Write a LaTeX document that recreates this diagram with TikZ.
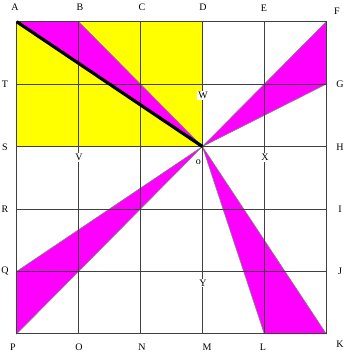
\documentclass[tikz,border=0pt]{standalone}
\usepackage{fontspec}
\setmainfont{Liberation Serif}
\definecolor{mag}{RGB}{255,0,255}
\definecolor{yel}{RGB}{255,255,0}
\begin{document}
\begin{tikzpicture}[x=1pt,y=-1pt,
  gridline/.style={draw=black!75,line width=0.9pt},
  tri/.style={fill=mag,draw=gray,line width=0.6pt},
  lab/.style={font=\fontsize{10}{12}\selectfont,inner sep=0.5pt},
  onlab/.style={lab,fill=white,inner sep=1pt}]
\useasboundingbox (0,0) rectangle (343,352);
% grid points
\coordinate (pA) at (16.7,21.7);
\coordinate (pB) at (78.6,21.7);
\coordinate (pC) at (140.5,21.7);
\coordinate (pD) at (202.4,21.7);
\coordinate (pE) at (264.3,21.7);
\coordinate (pF) at (326.2,21.7);
\coordinate (pT) at (16.7,84.1);
\coordinate (pG) at (326.2,84.1);
\coordinate (pS) at (16.7,146.5);
\coordinate (pH) at (326.2,146.5);
\coordinate (pR) at (16.7,209.0);
\coordinate (pI) at (326.2,209.0);
\coordinate (pQ) at (16.7,271.4);
\coordinate (pJ) at (326.2,271.4);
\coordinate (pP) at (16.7,333.8);
\coordinate (pO) at (78.6,333.8);
\coordinate (pN) at (140.5,333.8);
\coordinate (pM) at (202.4,333.8);
\coordinate (pL) at (264.3,333.8);
\coordinate (pK) at (326.2,333.8);
\coordinate (ctr) at (202.4,146.5);
% yellow square
\fill[yel] (pA) rectangle (ctr);
% magenta triangles
\filldraw[tri] (pA) -- (pB) -- (ctr) -- cycle;
\filldraw[tri] (pF) -- (pG) -- (ctr) -- cycle;
\filldraw[tri] (pQ) -- (pP) -- (ctr) -- cycle;
\filldraw[tri] (pL) -- (pK) -- (ctr) -- cycle;
% grid
\draw[gridline] (pB) -- (pO);
\draw[gridline] (pC) -- (pN);
\draw[gridline] (pD) -- (pM);
\draw[gridline] (pE) -- (pL);
\draw[gridline] (pT) -- (pG);
\draw[gridline] (pS) -- (pH);
\draw[gridline] (pR) -- (pI);
\draw[gridline] (pQ) -- (pJ);
\draw[gridline] (pA) rectangle (pK);
% thick diagonal
\draw[line width=3.2pt] (pA) -- (ctr);
% labels
\node[lab] (lA) at (15,7.5) {A};
\node[lab] (lB) at (80,7.5) {B};
\node[lab] (lC) at (142,7.5) {C};
\node[lab] (lD) at (203,7.5) {D};
\node[lab] (lE) at (264,8.5) {E};
\node[lab] (lF) at (337,11) {F};
\node[lab] (lT) at (5,84) {T};
\node[lab] (lS) at (5,147) {S};
\node[lab] (lR) at (5,209) {R};
\node[lab] (lQ) at (5,271) {Q};
\node[lab] (lG) at (340,84) {G};
\node[lab] (lH) at (340,147) {H};
\node[lab] (lI) at (340,209) {I};
\node[lab] (lJ) at (340,271) {J};
\node[lab] (lK) at (340,344) {K};
\node[lab] (lP) at (13,347) {P};
\node[lab] (lO) at (79,347) {O};
\node[lab] (lN) at (142,347) {N};
\node[lab] (lM) at (207,347) {M};
\node[lab] (lL) at (263,347) {L};
\node[onlab] (lW) at (203,95.5) {W};
\node[onlab] (lV) at (79,157.5) {V};
\node[onlab] (lX) at (265,157.5) {X};
\node[onlab] (lY) at (203,283) {Y};
\node[lab] (lo) at (198.3,162) {o};
\end{tikzpicture}
\end{document}
